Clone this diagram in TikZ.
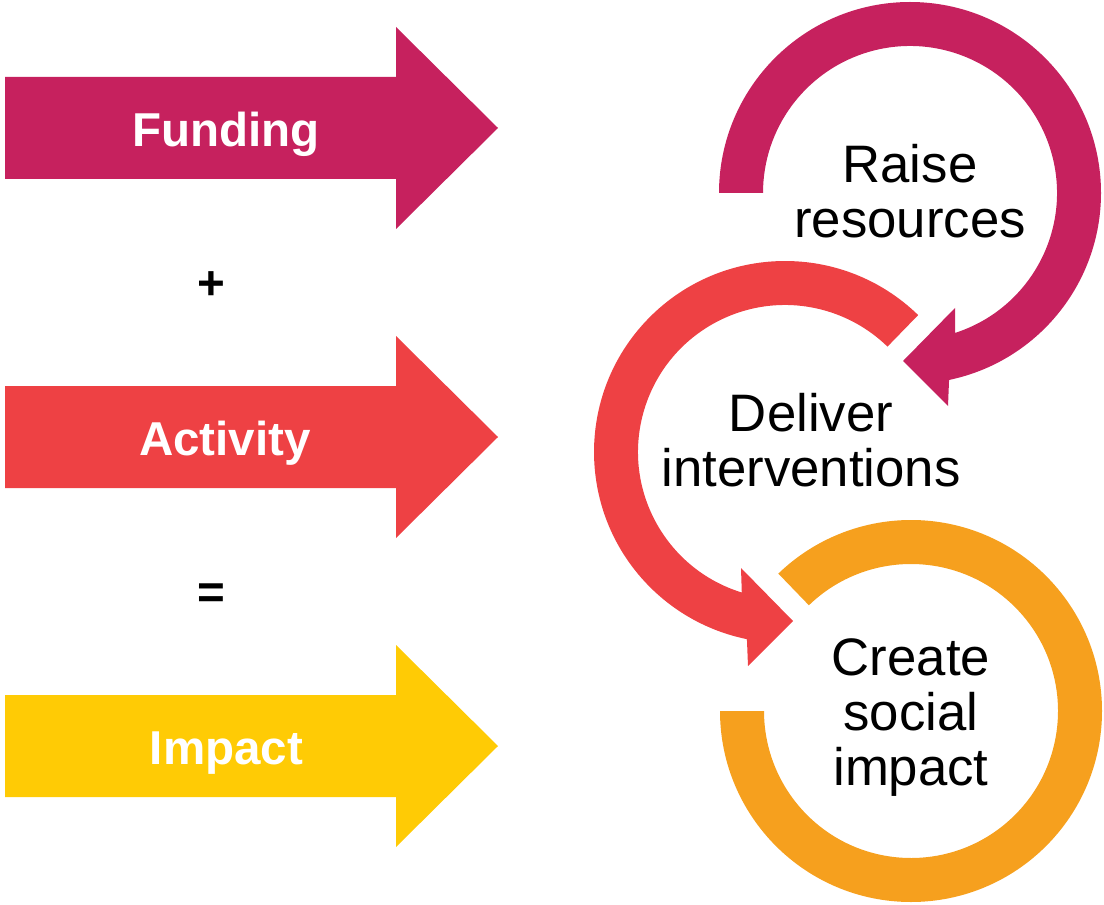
\documentclass[tikz,border=0pt]{standalone}
\usepackage{fontspec}
\setmainfont{Liberation Sans}
\usetikzlibrary{calc}
\definecolor{cmag}{RGB}{198,33,94}
\definecolor{cred}{RGB}{238,65,68}
\definecolor{cyel}{RGB}{255,203,5}
\definecolor{corg}{RGB}{246,160,30}
\begin{document}
\begin{tikzpicture}[x=0.025cm,y=0.025cm,
  leftlabel/.style={text=white, font=\bfseries\fontsize{33.8}{40}\selectfont, inner sep=0pt, anchor=base},
  opsign/.style={text=black, font=\bfseries\fontsize{33.8}{40}\selectfont, inner sep=0pt, anchor=base},
  cyclelabel/.style={text=black, align=center, font=\fontsize{37.5}{39.1}\selectfont, inner sep=0pt}]
\useasboundingbox (0,0) rectangle (1104,904);

% left block arrows
\fill[cmag] (5,725) -- (396,725) -- (396,675) -- (498,776) -- (396,877) -- (396,827) -- (5,827) -- cycle;
\fill[cred] (5,416) -- (396,416) -- (396,366) -- (498,467) -- (396,568) -- (396,518) -- (5,518) -- cycle;
\fill[cyel] (5,107) -- (396,107) -- (396,57) -- (498,158) -- (396,259) -- (396,209) -- (5,209) -- cycle;

\node[leftlabel] (funding) at (226,757) {Funding};
\node[leftlabel] (activity) at (225,449) {Activity};
\node[leftlabel] (impact) at (226.5,140) {Impact};
\node[opsign] (plus) at (211.7,604.7) {+};
\node[opsign] (equals) at (211.7,295.3) {=};

% cycle
\coordinate (c1) at (910,711);
\coordinate (c2) at (785,452);
\coordinate (c3) at (911,193);

\fill[cmag] ($(c1)+(180:191)$) arc[start angle=180, end angle=-78.2, radius=191]
  -- (948,498) -- (903,543) -- (955,596)
  -- ($(c1)+(-72.1:147)$) arc[start angle=-72.1, end angle=180, radius=147] -- cycle;

\fill[cred] ($(c2)+(45.8:147)$) -- ($(c2)+(45.8:191)$) arc[start angle=45.8, end angle=258.5, radius=191]
  -- (748,238) -- (793,283) -- (741,336)
  -- ($(c2)+(252.9:147)$) arc[start angle=252.9, end angle=45.8, radius=147] -- cycle;

\fill[corg] ($(c3)+(180:191)$) arc[start angle=180, end angle=494, radius=191]
  -- ($(c3)+(494:147)$) arc[start angle=494, end angle=180, radius=147] -- cycle;

\node[cyclelabel] (raise) at (910,713) {Raise\\resources};
\node[cyclelabel] (deliver) at (811,463.4) {Deliver\\interventions};
\node[cyclelabel] (create) at (911,186.4) {Create\\social\\impact};
\end{tikzpicture}
\end{document}
